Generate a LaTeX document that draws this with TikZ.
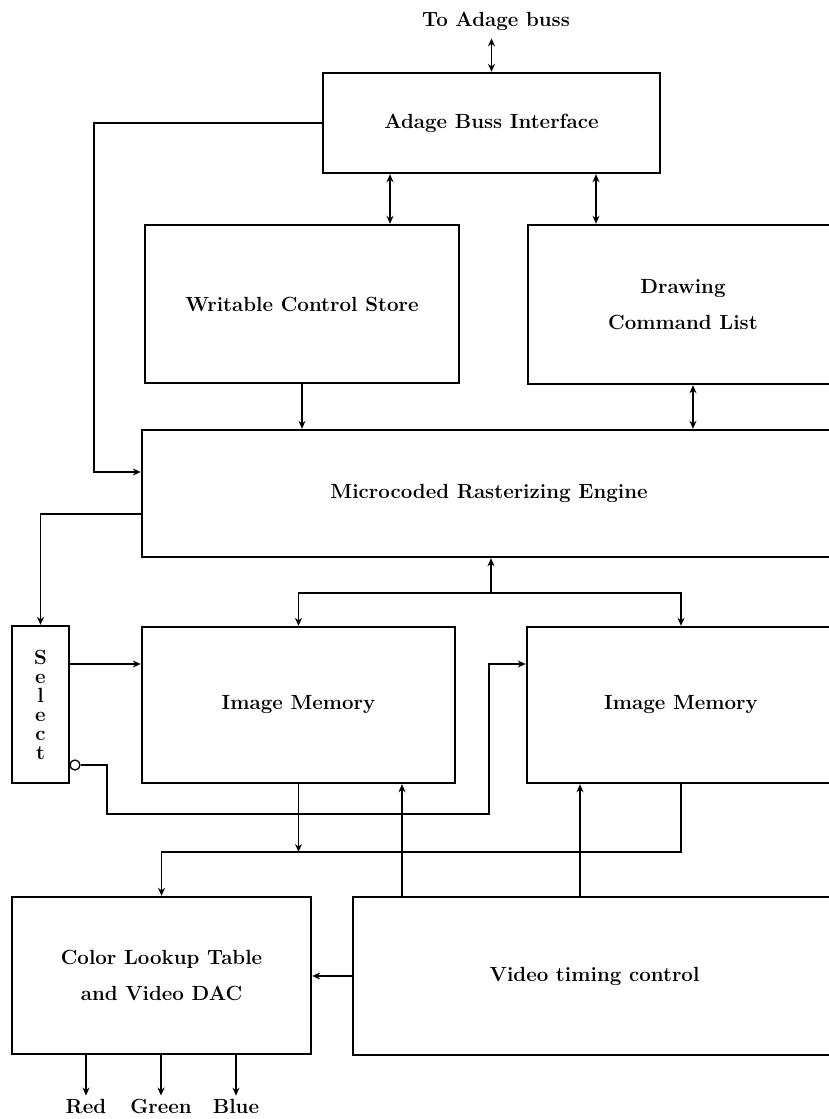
\documentclass[tikz,border=0pt]{standalone}
\usetikzlibrary{arrows.meta,positioning,calc}
\newcommand{\diafont}{\fontsize{20.5}{36}\selectfont\bfseries}
\tikzset{
  blockbox/.style={draw, line width=2.4pt, align=center,
                   minimum width=#1, font=\diafont, inner sep=3pt},
  blockbox/.default=300pt,
  selbox/.style  ={draw, line width=2.4pt, align=center,
                   minimum width=57pt, minimum height=157pt,
                   font=\fontsize{20.5}{19}\selectfont\bfseries, inner sep=2pt},
  lbl/.style     ={font=\diafont, inner sep=3pt},
  invc/.style    ={circle, draw, line width=1.3pt, inner sep=0pt,
                   minimum size=10pt},
  arr/.style     ={-{Stealth[length=8pt,width=7pt]}, line width=1.3pt},
  darr/.style    ={{Stealth[length=8pt,width=7pt]}-{Stealth[length=8pt,width=7pt]},
                   line width=1.3pt},
}
\begin{document}
\begin{tikzpicture}[x=1pt,y=-1pt]
  \useasboundingbox (0,0) rectangle (828,1119);
  % blocks
  \node[lbl] (tobus) at (496,21) {To Adage buss};
  \node[blockbox=337pt, minimum height=100pt] (abi) at (491.5,123) {Adage Buss Interface};
  \node[blockbox=314pt, minimum height=158pt] (wcs) at (302,304) {Writable Control Store};
  \node[blockbox=310pt, minimum height=159pt] (dcl) at (683,304.5) {Drawing\\Command List};
  \node[blockbox=694pt, minimum height=127pt] (mre) at (489,493.5) {Microcoded Rasterizing Engine};
  \node[selbox] (sel) at (40.5,704.5) {S\\e\\l\\e\\c\\t};
  \node[invc] (inv) at (75,765) {};
  \node[blockbox=313pt, minimum height=156pt] (im1) at (298.5,705) {Image Memory};
  \node[blockbox=308pt, minimum height=156pt] (im2) at (681,705) {Image Memory};
  \node[blockbox=299pt, minimum height=157pt] (clt) at (161.5,975.5) {Color Lookup Table\\and Video DAC};
  \node[blockbox=483pt, minimum height=158pt] (vtc) at (594.5,976) {Video timing control};

  % guide points
  \coordinate (gA) at (390,0);
  \coordinate (gB) at (596,0);
  \coordinate (gC) at (693,0);
  \coordinate (lp) at (94,472);
  \coordinate (sp) at (0,514);
  \coordinate (mb) at (491,593);
  \coordinate (sy) at (0,664);
  \coordinate (il) at (107,814);
  \coordinate (ir) at (489,664);
  \coordinate (ob) at (0,852);
  \coordinate (t1) at (402,0);
  \coordinate (t2) at (580,0);

  % connectors
  \draw[darr, shorten <=5pt] (abi.north |- tobus.south) -- (abi.north);
  \draw[darr] (abi.south -| gA) -- (wcs.north -| gA);
  \draw[darr] (abi.south -| gB) -- (dcl.north -| gB);
  \draw[arr] (abi.west) -| (lp) -- (lp -| mre.west);
  \draw[arr] (wcs.south) -- (wcs.south |- mre.north);
  \draw[darr] (dcl.south -| gC) -- (mre.north -| gC);
  \draw[arr] (mre.west |- sp) -| (sel.north);
  \draw[arr] (mb) -- (mb |- mre.south);
  \draw[arr] (mb) -| (im1.north);
  \draw[arr] (mb) -| (im2.north);
  \draw[arr] (sel.east |- sy) -- (im1.west |- sy);
  \draw[arr] (inv.east) -| (il) -| (ir) -- (ir -| im2.west);
  \draw[arr] (im1.south) -- (im1.south |- ob);
  \draw[arr] (im2.south) |- (ob -| clt.north) -- (clt.north);
  \draw[arr] (vtc.north -| t1) -- (im1.south -| t1);
  \draw[arr] (vtc.north -| t2) -- (im2.south -| t2);
  \draw[arr] (vtc.west) -- (vtc.west -| clt.east);
  \foreach \c/\x in {Red/86,Green/161,Blue/236}{
    \node[lbl] (\c) at (\x,1106) {\c};
    \draw[arr] (clt.south -| \c) -- (\c.north);
  }
\end{tikzpicture}
\end{document}
